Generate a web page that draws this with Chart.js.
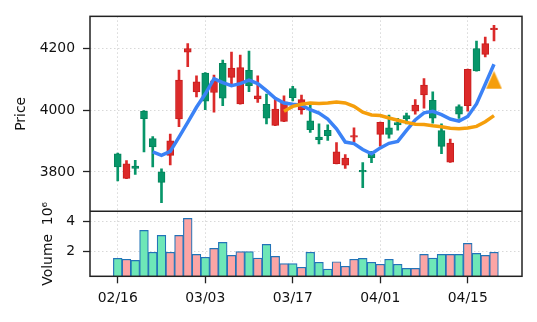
<!DOCTYPE html>
<html>
<head>
<meta charset="utf-8">
<script src="https://cdn.jsdelivr.net/npm/chart.js@4.4.1/dist/chart.umd.min.js"></script>
<style>
  body { margin: 0; background: #fff; }
  #wrap { width: 537px; height: 322px; }
</style>
</head>
<body>
<div id="wrap"><canvas id="myChart"></canvas></div>
<script>
// daily OHLC, one entry per trading day
const candleOpen = [3816, 3826, 3811, 3973, 3881, 3766, 3901, 4098, 4201, 4093, 4030, 4096, 4040, 4137, 4139, 4080, 4047, 3975, 4004, 4028, 4041, 4035,
    3937, 3905, 3918, 3865, 3845, 3918, 3800, 3846, 3961, 3922, 3953, 3972, 4017, 4082, 3975, 3883, 3894, 3988, 4133, 4128, 4217, 4267]
const candleHigh = [3861, 3837, 3838, 3999, 3915, 3810, 3923, 4131, 4217, 4112, 4123, 4115, 4163, 4189, 4180, 4193, 4112, 4053, 4042, 4047, 4078, 4050,
    4021, 3956, 3953, 3895, 3856, 3943, 3830, 3867, 3962, 3985, 3974, 3991, 4035, 4103, 4060, 3956, 3907, 4018, 4134, 4225, 4238, 4276]
const candleLow = [3771, 3778, 3792, 3865, 3816, 3700, 3823, 3947, 4142, 4044, 4002, 3994, 4015, 4080, 4020, 4061, 4026, 3956, 3950, 3963, 4031, 3988,
    3928, 3891, 3902, 3826, 3811, 3897, 3749, 3830, 3884, 3910, 3936, 3956, 3988, 4007, 3958, 3859, 3831, 3974, 3997, 4127, 4174, 4226]
const candleClose = [3859, 3779, 3819, 3997, 3908, 3800, 3854, 3972, 4189, 4060, 4121, 4058, 4153, 4107, 4021, 4130, 4037, 4020, 3951, 3964, 4071, 4002,
    3966, 3913, 3935, 3827, 3822, 3913, 3805, 3859, 3922, 3943, 3960, 3983, 3997, 4050, 4033, 3934, 3832, 4012, 4015, 4201, 4182, 4262]

// volume in millions
const volumeM = [1.56, 1.50, 1.43, 3.40, 1.96, 3.07, 1.96, 3.07, 4.19, 1.82, 1.63, 2.22, 2.61, 1.76, 2.00, 2.00, 1.58, 2.48, 1.69, 1.21, 1.21, 0.97,
    1.96, 1.30, 0.86, 1.34, 1.04, 1.50, 1.56, 1.30, 1.17, 1.50, 1.17, 0.90, 0.90, 1.82, 1.58, 1.82, 1.82, 1.82, 2.55, 1.89, 1.76, 1.96]

// moving averages, first value sits on day ma5Start / ma20Start
const ma5Start = 4
const ma5 = [3865, 3854, 3867, 3913, 3961, 4010, 4053, 4103, 4090, 4080, 4087, 4098, 4087, 4064, 4039, 4024, 4020, 4017, 4002, 3991,
    3972, 3940, 3897, 3892, 3873, 3859, 3878, 3893, 3899, 3935, 3969, 3992, 3997, 3986, 3972, 3965, 3980, 4021, 4085, 4150]
const ma20Start = 19
const ma20 = [3997, 4013, 4020, 4024, 4022, 4024, 4027, 4024, 4013, 3994, 3985, 3983, 3975, 3968, 3961, 3955, 3954, 3950, 3947, 3942,
    3940, 3943, 3948, 3963, 3983]

// buy signal marker
const signalDay = [43]
const signalPrice = [4099]

const tickPos = [0, 10, 20, 30, 40]
const tickLabels = ['02/16', '03/03', '03/17', '04/01', '04/15']
const priceTicks = [3800, 4000, 4200]
const volTicks = [2, 4]

const upColor = '#079669'
const downColor = '#dc2a2a'
const upVol = '#6ee7b7'
const downVol = '#fca5a5'

let isUp = candleOpen.map((o, i) => candleClose[i] >= o)

let wicks = [], bodies = [], vols = []
for (let i = 0; i < candleOpen.length; i++) {
    wicks.push({x: i, y: [candleLow[i], candleHigh[i]]})
    bodies.push({x: i, y: [candleOpen[i], candleClose[i]]})
    vols.push({x: i, y: volumeM[i]})
}
let ma5Data = ma5.map((v, k) => ({x: ma5Start + k, y: v}))
let ma20Data = ma20.map((v, k) => ({x: ma20Start + k, y: v}))
let signalData = signalDay.map((d, k) => ({x: d, y: signalPrice[k]}))

// triangle marker drawn once into a small canvas
const tri = document.createElement('canvas')
tri.width = 17
tri.height = 19
{
    const c = tri.getContext('2d')
    c.fillStyle = '#f59e0b'
    c.beginPath()
    c.moveTo(8.5, 0.5)
    c.lineTo(16.5, 18.5)
    c.lineTo(0.5, 18.5)
    c.closePath()
    c.fill()
}

// box around both panels plus the divider
const frame = {
    id: 'frame',
    afterDraw(chart) {
        const {ctx, chartArea: a} = chart
        const mid = chart.scales.vol.top
        ctx.save()
        ctx.strokeStyle = '#222'
        ctx.lineWidth = 1.5
        ctx.strokeRect(a.left, a.top, a.right - a.left, a.bottom - a.top)
        ctx.beginPath()
        ctx.moveTo(a.left, mid)
        ctx.lineTo(a.right, mid)
        ctx.stroke()
        ctx.restore()
    }
}

Chart.defaults.font.family = 'DejaVu Sans'
Chart.defaults.font.size = 13.9
Chart.defaults.color = '#111'

const gridOpts = {
    color: '#d8d8d8',
    lineWidth: 1,
    tickLength: 7,
    tickColor: '#222',
    tickWidth: 1.3,
    offset: false
}
const borderOpts = {display: false, dash: [1.5, 2.5]}

const ctx = document.getElementById('myChart')
const myChart = new Chart(ctx, {
    type: 'bar',
    data: {
        datasets: [{
            type: 'line',
            data: signalData,
            showLine: false,
            pointStyle: tri,
            pointRadius: 9,
            order: 0
        }, {
            type: 'line',
            data: ma20Data,
            borderColor: '#f59e0b',
            borderWidth: 3.5,
            pointRadius: 0,
            tension: 0,
            order: 1
        }, {
            type: 'line',
            data: ma5Data,
            borderColor: '#3b82f6',
            borderWidth: 3.5,
            pointRadius: 0,
            tension: 0,
            order: 2
        }, {
            data: bodies,
            backgroundColor: isUp.map(u => u ? upColor : downColor),
            borderColor: isUp.map(u => u ? '#05845c' : '#c81e1e'),
            borderWidth: 1,
            borderSkipped: false,
            barThickness: 7,
            grouped: false,
            order: 3
        }, {
            data: wicks,
            backgroundColor: isUp.map(u => u ? upColor : downColor),
            barThickness: 2,
            grouped: false,
            order: 4
        }, {
            data: vols,
            yAxisID: 'vol',
            backgroundColor: isUp.map(u => u ? upVol : downVol),
            borderColor: '#2273b8',
            borderWidth: 1.2,
            borderSkipped: 'start',
            barThickness: 8.75,
            grouped: false,
            order: 5
        }]
    },
    options: {
        responsive: true,
        maintainAspectRatio: false,
        animation: false,
        layout: {
            padding: {top: 15, right: 15, left: 0, bottom: 0}
        },
        plugins: {
            legend: {display: false},
            tooltip: {enabled: false}
        },
        scales: {
            x: {
                type: 'linear',
                offset: false,
                min: -3.17,
                max: 46.2,
                afterBuildTicks: (s) => { s.ticks = tickPos.map(v => ({value: v})) },
                afterFit: (s) => { s.height = 45.7 },
                ticks: {
                    autoSkip: false,
                    maxRotation: 0,
                    padding: 7,
                    callback: (v, i) => tickLabels[i]
                },
                grid: gridOpts,
                border: borderOpts
            },
            y: {
                stack: 'panels',
                stackWeight: 3,
                weight: 1,
                position: 'left',
                min: 3672,
                max: 4305.5,
                afterBuildTicks: (s) => { s.ticks = priceTicks.map(v => ({value: v})) },
                afterFit: (s) => { s.width = 90 },
                ticks: {
                    padding: 8,
                    callback: (v) => String(v)
                },
                grid: gridOpts,
                border: borderOpts,
                title: {
                    display: true,
                    text: 'Price',
                    padding: {top: 13, bottom: 0}
                }
            },
            vol: {
                stack: 'panels',
                stackWeight: 1,
                weight: 0,
                position: 'left',
                min: 0.38,
                max: 4.66,
                afterBuildTicks: (s) => { s.ticks = volTicks.map(v => ({value: v})) },
                afterFit: (s) => { s.width = 90 },
                ticks: {
                    padding: 8,
                    callback: (v) => String(v)
                },
                grid: gridOpts,
                border: borderOpts,
                title: {
                    display: true,
                    text: 'Volume  10\u2076',
                    padding: {top: 40, bottom: 0}
                }
            }
        }
    },
    plugins: [frame]
})
</script>
</body>
</html>
